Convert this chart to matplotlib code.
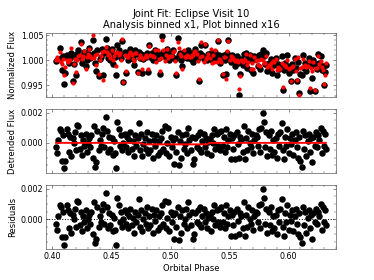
# Joint fit plot: eclipse visit 10, three stacked panels sharing orbital phase
import numpy as np
import matplotlib
matplotlib.use("Agg")
import matplotlib.pyplot as plt
from matplotlib.ticker import MultipleLocator, FormatStrFormatter

# Orbital phase of each binned point (units of 1e-4)
phase_e4 = [
    4030, 4040, 4049, 4060, 4069, 4080, 4090, 4099, 4110, 4120,
    4130, 4139, 4150, 4160, 4171, 4180, 4190, 4200, 4209, 4220,
    4230, 4240, 4251, 4260, 4270, 4281, 4290, 4300, 4310, 4320,
    4330, 4340, 4349, 4360, 4370, 4380, 4390, 4400, 4410, 4420,
    4430, 4440, 4450, 4459, 4470, 4480, 4490, 4500, 4510, 4520,
    4530, 4539, 4550, 4560, 4570, 4580, 4590, 4600, 4610, 4620,
    4630, 4640, 4650, 4660, 4670, 4680, 4690, 4700, 4710, 4720,
    4730, 4740, 4750, 4760, 4770, 4780, 4790, 4800, 4810, 4820,
    4830, 4840, 4850, 4860, 4870, 4880, 4890, 4900, 4910, 4920,
    4930, 4940, 4950, 4960, 4970, 4980, 4990, 5000, 5010, 5020,
    5030, 5040, 5050, 5060, 5070, 5080, 5090, 5100, 5110, 5120,
    5130, 5140, 5150, 5160, 5170, 5180, 5190, 5200, 5210, 5220,
    5230, 5240, 5250, 5260, 5270, 5280, 5290, 5300, 5310, 5320,
    5330, 5340, 5350, 5360, 5370, 5380, 5390, 5400, 5410, 5420,
    5430, 5440, 5450, 5460, 5470, 5480, 5490, 5500, 5510, 5520,
    5530, 5540, 5550, 5560, 5570, 5580, 5590, 5600, 5610, 5620,
    5630, 5640, 5650, 5660, 5670, 5680, 5690, 5700, 5710, 5720,
    5730, 5740, 5750, 5760, 5770, 5780, 5790, 5800, 5810, 5820,
    5830, 5840, 5850, 5860, 5870, 5880, 5890, 5900, 5910, 5920,
    5930, 5940, 5950, 5960, 5970, 5980, 5990, 6000, 6010, 6020,
    6030, 6040, 6050, 6060, 6070, 6080, 6090, 6100, 6110, 6120,
    6130, 6140, 6150, 6160, 6170, 6180, 6190, 6200, 6210, 6220,
    6230, 6240, 6250, 6260, 6270, 6280, 6290, 6300, 6310, 6315,
]

# Residuals (units of 1e-4)
resid_e4 = [
    -3, -7, 2, 9, 8, -12, 5, -17, -12, 9,
    6, -6, 4, -9, 3, 0, 7, -5, 12, 11,
    -4, 5, -8, 2, -2, 6, -6, 0, 3, -3,
    5, -10, 11, -16, -13, 8, -5, 2, -2, 6,
    10, -3, 17, 8, -6, 4, -4, 3, -8, 1,
    -7, -17, 14, 9, -2, 5, -5, 0, 6, -3,
    4, -6, 2, 7, -4, 1, -9, 5, -2, 3,
    13, -5, 6, -8, 0, 4, -3, 8, -6, 2,
    -4, 7, -9, 3, -1, 6, -7, 2, -5, 4,
    9, -3, 12, -6, 1, 11, -8, 5, -2, 3,
    -13, 4, -5, 8, -14, 2, -9, 6, -3, 0,
    7, -6, 11, 3, -4, 5, -13, -10, 4, -2,
    6, -3, 8, -5, 2, 7, -2, 4, -6, 1,
    3, -8, 5, 0, 9, -4, 6, -2, 7, -5,
    8, -2, 4, -6, 9, -3, 2, 6, -11, 3,
    -4, 5, -11, 7, -1, -10, 4, 2, -6, 11,
    -11, 3, -5, 8, 0, -3, 6, -7, 2, 5,
    4, -2, 9, -6, 10, 20, 14, -3, 7, -9,
    5, -4, 8, -8, 2, -6, 3, -10, 6, -2,
    7, 13, -5, -11, 4, -2, 9, -7, 3, -1,
    6, -8, 2, 7, -3, -10, 4, -12, -16, 8,
    -4, 5, -9, 1, 6, -6, 3, -13, 4, -2,
    7, -3, 5, 2, 10, -7, 8, -2, 6, -4,
]

# Normalized flux minus 1 (units of 1e-4)
flux_e4 = [
    -2, 0, 3, 25, 5, -20, 8, -47, -25, 10,
    3, -5, 5, 15, -42, -8, 10, -29, 13, 20,
    7, 37, -6, 10, 17, -12, 0, 13, 25, 5,
    10, 41, 15, -5, -22, 20, -32, 3, 7, 23,
    -29, 15, 43, 25, 5, 17, 0, 23, -8, 10,
    7, -29, 30, 20, 13, 5, 38, -43, 17, -25,
    10, 0, 15, 23, 7, 3, -10, 20, 13, -23,
    17, 5, 13, -25, 3, 10, 7, 15, -23, 31,
    7, 15, 0, 10, 20, 3, 13, 5, -27, 9,
    49, 17, 10, 5, 23, 15, 0, 13, 7, 20,
    5, 3, -30, 45, 10, 15, 0, -12, 17, 7,
    13, 5, 20, 10, 3, 15, -3, 7, 23, 10,
    5, -41, 15, 31, 10, 3, 31, 7, 0, 13,
    7, 15, 0, 10, 5, 17, 3, 38, 10, -5,
    5, -30, 10, 0, -28, 15, 41, 7, -3, 10,
    0, 5, -12, 8, -5, -68, -27, 3, -10, 12,
    -10, 15, -15, 5, 10, -20, 0, -25, 8, 3,
    5, -12, 10, -18, 12, 20, 8, -8, 15, -22,
    -5, -15, 3, -25, 0, -10, 5, -30, -8, -18,
    -10, 8, -59, -20, -5, -15, 10, -25, -12, -42,
    -8, -20, 5, -15, -42, -3, -65, -28, -30, 10,
    -15, -5, -22, -10, 5, -62, -12, -35, 0, -62,
    -8, -18, 13, -5, 8, -20, -12, -49, -23, -10,
]

# Eclipse model (breakpoints), depth in flux units
model_phase = [0.403, 0.4745, 0.4775, 0.5305, 0.5335, 0.6315]
model_flux = [0.0, 0.0, -0.0001, -0.0001, 0.0, 0.0]

phase = np.array(phase_e4) / 1e4
resid = np.array(resid_e4) / 1e4
flux = 1.0 + np.array(flux_e4) / 1e4
fit = flux - resid                                   # full model = data - residuals
detrended = resid + np.interp(phase, model_phase, model_flux)

plt.rcParams["font.size"] = 11
plt.rcParams["xtick.labelsize"] = 10.5
plt.rcParams["ytick.labelsize"] = 10.5
edge = "#444444"

fig, axes = plt.subplots(3, 1, figsize=(6.8, 280 / 55), dpi=55, sharex=True)
fig.subplots_adjust(left=0.123, right=0.898, top=0.882, bottom=0.111, hspace=0.2)

ax1, ax2, ax3 = axes

ax1.plot(phase, flux, "o", color="black", ms=8.5, mew=0)
ax1.plot(phase, fit, "o", color="red", ms=5.5, mew=0)
ax1.set_ylim(0.9928, 1.0054)
ax1.set_yticks([0.995, 1.000, 1.005])
ax1.yaxis.set_minor_locator(MultipleLocator(0.001))
ax1.set_ylabel("Normalized Flux")
ax1.set_title("Joint Fit: Eclipse Visit 10\nAnalysis binned x1, Plot binned x16", fontsize=13)

ax2.plot(phase, detrended, "o", color="black", ms=8.5, mew=0)
ax2.plot(model_phase, model_flux, "-", color="red", lw=2.5)
ax2.set_ylim(-0.00199, 0.00224)
ax2.set_yticks([0.000, 0.002])
ax2.yaxis.set_minor_locator(MultipleLocator(0.0005))
ax2.set_ylabel("Detrended Flux")

ax3.plot(phase, resid, "o", color="black", ms=8.5, mew=0)
ax3.axhline(0, color="black", ls=":", lw=1.3, zorder=0)
ax3.set_ylim(-0.00196, 0.00222)
ax3.set_yticks([0.000, 0.002])
ax3.yaxis.set_minor_locator(MultipleLocator(0.0005))
ax3.set_ylabel("Residuals")
ax3.set_xlabel("Orbital Phase")

ax3.set_xlim(0.3945, 0.640)
ax3.set_xticks([0.40, 0.45, 0.50, 0.55, 0.60])
ax3.xaxis.set_minor_locator(MultipleLocator(0.01))

for ax in axes:
    ax.tick_params(which="both", direction="in", top=True, right=True, colors=edge, labelcolor="black")
    ax.tick_params(which="major", length=4)
    ax.tick_params(which="minor", length=2)
    for s in ax.spines.values():
        s.set_color(edge)
    ax.yaxis.set_major_formatter(FormatStrFormatter("%.3f"))
ax3.xaxis.set_major_formatter(FormatStrFormatter("%.2f"))

fig.align_ylabels(axes)
fig.savefig("out.png", dpi=55)
